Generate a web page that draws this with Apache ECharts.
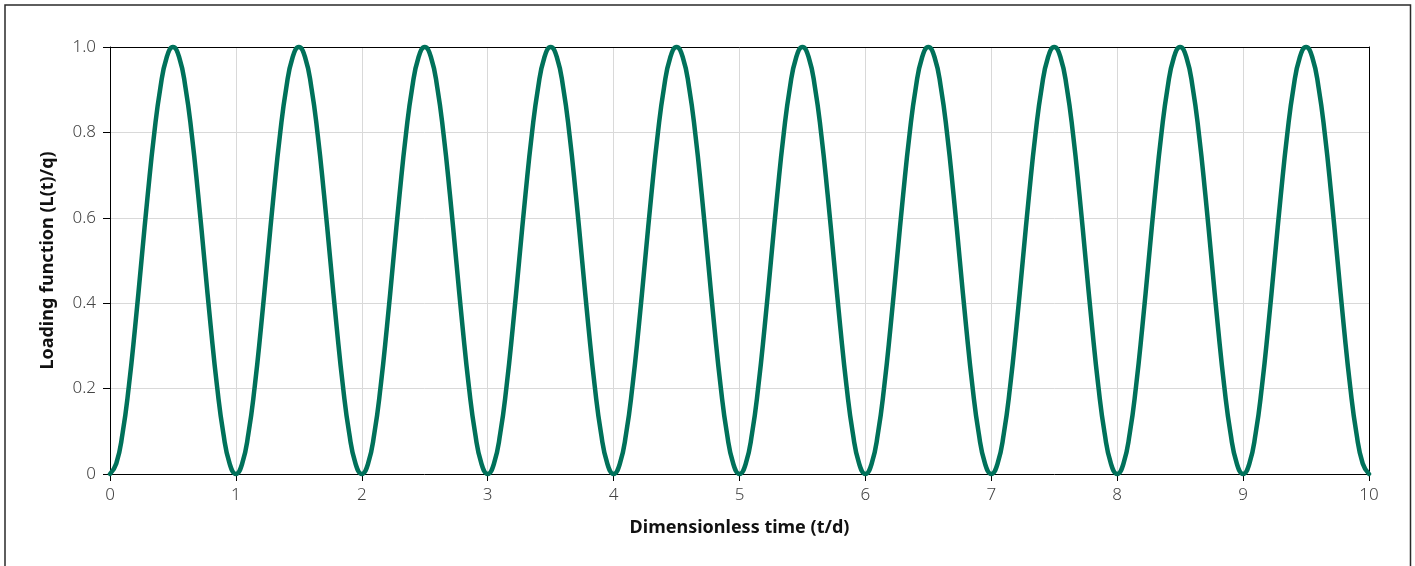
<!DOCTYPE html>
<html>
<head>
<meta charset="utf-8">
<script src="https://cdn.jsdelivr.net/npm/echarts@6/dist/echarts.min.js"></script>
<style>
  html, body { margin: 0; padding: 0; background: #fff; }
  #chart { width: 1415px; height: 566px; }
</style>
</head>
<body>
<div id="chart"></div>
<script>
// Dimensionless time samples (t/d)
const times = [
  0, 0.05, 0.1, 0.15, 0.2, 0.25, 0.3, 0.35, 0.4, 0.45, 0.5, 0.55, 0.6, 0.65, 0.7, 0.75, 0.8, 0.85, 0.9, 0.95,
  1, 1.05, 1.1, 1.15, 1.2, 1.25, 1.3, 1.35, 1.4, 1.45, 1.5, 1.55, 1.6, 1.65, 1.7, 1.75, 1.8, 1.85, 1.9, 1.95,
  2, 2.05, 2.1, 2.15, 2.2, 2.25, 2.3, 2.35, 2.4, 2.45, 2.5, 2.55, 2.6, 2.65, 2.7, 2.75, 2.8, 2.85, 2.9, 2.95,
  3, 3.05, 3.1, 3.15, 3.2, 3.25, 3.3, 3.35, 3.4, 3.45, 3.5, 3.55, 3.6, 3.65, 3.7, 3.75, 3.8, 3.85, 3.9, 3.95,
  4, 4.05, 4.1, 4.15, 4.2, 4.25, 4.3, 4.35, 4.4, 4.45, 4.5, 4.55, 4.6, 4.65, 4.7, 4.75, 4.8, 4.85, 4.9, 4.95,
  5, 5.05, 5.1, 5.15, 5.2, 5.25, 5.3, 5.35, 5.4, 5.45, 5.5, 5.55, 5.6, 5.65, 5.7, 5.75, 5.8, 5.85, 5.9, 5.95,
  6, 6.05, 6.1, 6.15, 6.2, 6.25, 6.3, 6.35, 6.4, 6.45, 6.5, 6.55, 6.6, 6.65, 6.7, 6.75, 6.8, 6.85, 6.9, 6.95,
  7, 7.05, 7.1, 7.15, 7.2, 7.25, 7.3, 7.35, 7.4, 7.45, 7.5, 7.55, 7.6, 7.65, 7.7, 7.75, 7.8, 7.85, 7.9, 7.95,
  8, 8.05, 8.1, 8.15, 8.2, 8.25, 8.3, 8.35, 8.4, 8.45, 8.5, 8.55, 8.6, 8.65, 8.7, 8.75, 8.8, 8.85, 8.9, 8.95,
  9, 9.05, 9.1, 9.15, 9.2, 9.25, 9.3, 9.35, 9.4, 9.45, 9.5, 9.55, 9.6, 9.65, 9.7, 9.75, 9.8, 9.85, 9.9, 9.95,
  10
];

// Loading function L(t)/q at each sample
const loading = [
  0, 0.0245, 0.0955, 0.2061, 0.3455, 0.5, 0.6545, 0.7939, 0.9045, 0.9755, 1, 0.9755, 0.9045, 0.7939, 0.6545, 0.5, 0.3455, 0.2061, 0.0955, 0.0245,
  0, 0.0245, 0.0955, 0.2061, 0.3455, 0.5, 0.6545, 0.7939, 0.9045, 0.9755, 1, 0.9755, 0.9045, 0.7939, 0.6545, 0.5, 0.3455, 0.2061, 0.0955, 0.0245,
  0, 0.0245, 0.0955, 0.2061, 0.3455, 0.5, 0.6545, 0.7939, 0.9045, 0.9755, 1, 0.9755, 0.9045, 0.7939, 0.6545, 0.5, 0.3455, 0.2061, 0.0955, 0.0245,
  0, 0.0245, 0.0955, 0.2061, 0.3455, 0.5, 0.6545, 0.7939, 0.9045, 0.9755, 1, 0.9755, 0.9045, 0.7939, 0.6545, 0.5, 0.3455, 0.2061, 0.0955, 0.0245,
  0, 0.0245, 0.0955, 0.2061, 0.3455, 0.5, 0.6545, 0.7939, 0.9045, 0.9755, 1, 0.9755, 0.9045, 0.7939, 0.6545, 0.5, 0.3455, 0.2061, 0.0955, 0.0245,
  0, 0.0245, 0.0955, 0.2061, 0.3455, 0.5, 0.6545, 0.7939, 0.9045, 0.9755, 1, 0.9755, 0.9045, 0.7939, 0.6545, 0.5, 0.3455, 0.2061, 0.0955, 0.0245,
  0, 0.0245, 0.0955, 0.2061, 0.3455, 0.5, 0.6545, 0.7939, 0.9045, 0.9755, 1, 0.9755, 0.9045, 0.7939, 0.6545, 0.5, 0.3455, 0.2061, 0.0955, 0.0245,
  0, 0.0245, 0.0955, 0.2061, 0.3455, 0.5, 0.6545, 0.7939, 0.9045, 0.9755, 1, 0.9755, 0.9045, 0.7939, 0.6545, 0.5, 0.3455, 0.2061, 0.0955, 0.0245,
  0, 0.0245, 0.0955, 0.2061, 0.3455, 0.5, 0.6545, 0.7939, 0.9045, 0.9755, 1, 0.9755, 0.9045, 0.7939, 0.6545, 0.5, 0.3455, 0.2061, 0.0955, 0.0245,
  0, 0.0245, 0.0955, 0.2061, 0.3455, 0.5, 0.6545, 0.7939, 0.9045, 0.9755, 1, 0.9755, 0.9045, 0.7939, 0.6545, 0.5, 0.3455, 0.2061, 0.0955, 0.0245,
  0
];

const xTicks = [0, 1, 2, 3, 4, 5, 6, 7, 8, 9, 10];
const yTicks = [0, 0.2, 0.4, 0.6, 0.8, 1.0];

const xTitle = 'Dimensionless time (t/d)';
const yTitle = 'Loading function (L(t)/q)';

const FONT = '"Noto Sans", "Open Sans", sans-serif';
const LABEL_COLOR = '#444444';

const xMin = xTicks[0], xMax = xTicks[xTicks.length - 1];
const yMin = yTicks[0], yMax = yTicks[yTicks.length - 1];

// plain line used to close the plot box on the top and right
const frameAxis = {
  type: 'value',
  axisLine: { show: true, onZero: false, lineStyle: { color: '#000', width: 1 } },
  axisTick: { show: false },
  axisLabel: { show: false },
  splitLine: { show: false }
};

const chart = echarts.init(document.getElementById('chart'), null, { renderer: 'canvas' });

chart.setOption({
  animation: false,
  backgroundColor: '#ffffff',
  textStyle: { fontFamily: FONT },
  graphic: [{
    // frame around the whole figure
    type: 'rect',
    z: -1,
    shape: { x: 5, y: 5, width: 1405.5, height: 620 },
    style: { fill: 'none', stroke: '#2a2a2a', lineWidth: 1.5 }
  }],
  grid: { left: 110, top: 47, right: 46, bottom: 92, show: false },
  xAxis: [{
    type: 'value',
    min: xMin, max: xMax, interval: 1,
    name: xTitle, nameLocation: 'middle', nameGap: 45,
    nameTextStyle: { fontFamily: FONT, fontWeight: 'bold', fontSize: 18, color: '#111' },
    axisLine: { show: true, onZero: false, lineStyle: { color: '#000', width: 1 } },
    axisTick: { show: true, length: 7, inside: false, lineStyle: { color: '#000' } },
    axisLabel: { margin: 13, fontSize: 17, fontWeight: 300, color: LABEL_COLOR, fontFamily: FONT },
    splitLine: { show: true, showMinLine: false, showMaxLine: false, lineStyle: { color: '#d9d9d9', width: 1 } }
  }, Object.assign({ position: 'top', min: xMin, max: xMax, interval: 1 }, frameAxis)],
  yAxis: [{
    type: 'value',
    min: yMin, max: yMax, interval: 0.2,
    name: yTitle, nameLocation: 'middle', nameGap: 53, nameRotate: 90,
    nameTextStyle: { fontFamily: FONT, fontWeight: 'bold', fontSize: 18, color: '#111' },
    axisLine: { show: true, onZero: false, lineStyle: { color: '#000', width: 1 } },
    axisTick: { show: true, length: 7, inside: false, lineStyle: { color: '#000' } },
    axisLabel: {
      margin: 14, fontSize: 17, fontWeight: 300, color: LABEL_COLOR, fontFamily: FONT,
      formatter: v => (v === 0 ? '0' : v.toFixed(1))
    },
    splitLine: { show: true, showMinLine: false, showMaxLine: false, lineStyle: { color: '#d9d9d9', width: 1 } }
  }, Object.assign({ position: 'right', min: yMin, max: yMax, interval: 0.2 }, frameAxis)],
  series: [{
    type: 'line',
    xAxisIndex: 0,
    yAxisIndex: 0,
    data: times.map((t, i) => [t, loading[i]]),
    showSymbol: false,
    smooth: 0.5,
    clip: false,
    lineStyle: { color: '#00715a', width: 4.5, cap: 'round', join: 'round' },
    z: 3
  }]
});
</script>
</body>
</html>
